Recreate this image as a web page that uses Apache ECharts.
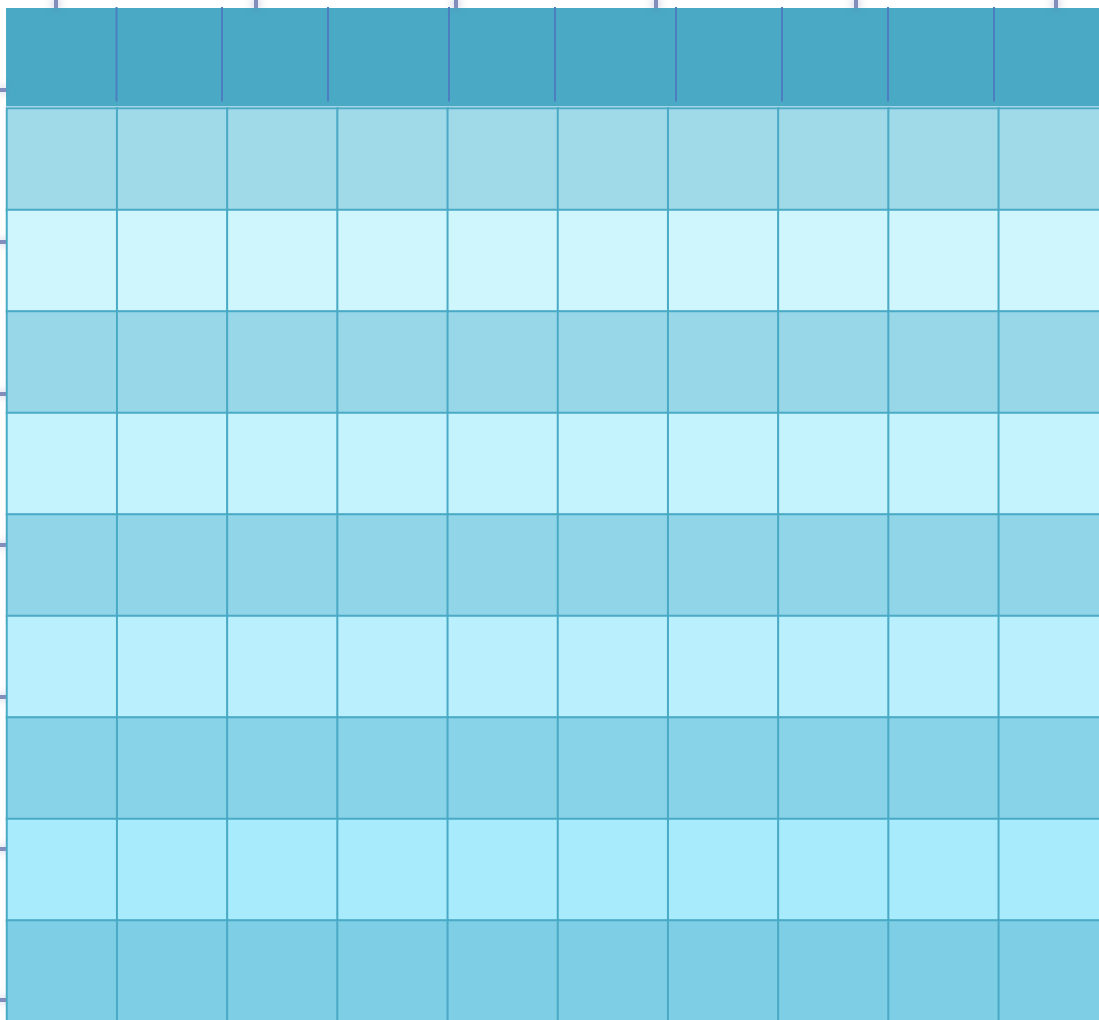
<!DOCTYPE html>
<html>
<head>
<meta charset="utf-8">
<script src="https://cdn.jsdelivr.net/npm/echarts@6/dist/echarts.min.js"></script>
<style>
  html, body { margin: 0; padding: 0; background: #fff; overflow: hidden; }
  /* shifted left so the ticks hugging the page edge stay on canvas */
  #chart { position: absolute; left: -60px; top: 0; width: 1175px; height: 1030px; }
</style>
</head>
<body>
<div id="chart"></div>
<script>
// columns and rows of the body grid
const columns = ['C1', 'C2', 'C3', 'C4', 'C5', 'C6', 'C7', 'C8', 'C9', 'C10']
const rows = ['R1', 'R2', 'R3', 'R4', 'R5', 'R6', 'R7', 'R8', 'R9']
// shade level of each row (alternating bands)
const rowLevels = [1, 8, 2, 7, 3, 6, 4, 5, 0]
// header column spans, left to right
const headerSpans = [110.5, 105.5, 106, 121, 106, 121, 106, 106, 106, 115]

const shadeColors = ['#7ecfe6', '#a0d9e8', '#98d7e8', '#91d5e8', '#89d3e8',
  '#a8ebfd', '#baf0fd', '#c5f3fd', '#d0f6fd']

const SHIFT = 60

const cells = []
rows.forEach((r, ri) => {
  columns.forEach((c, ci) => {
    cells.push([ci, ri, rowLevels[ri]])
  })
})

// divider positions in header
const headerDividers = []
let acc = 0
headerSpans.slice(0, -1).forEach(w => {
  acc += w
  headerDividers.push([acc])
})
const headerTotal = headerSpans.reduce((a, b) => a + b, 0)

// faint blurred ticks peeking out behind the table
const blurTick = (len) => ({
  show: true,
  inside: false,
  length: len,
  lineStyle: { color: 'rgba(95,110,170,0.75)', width: 4, shadowBlur: 8, shadowColor: 'rgba(95,110,170,1)' }
})
const hiddenParts = {
  axisLine: { show: false, onZero: false }, axisLabel: { show: false }, splitLine: { show: false }
}

const chart = echarts.init(document.getElementById('chart'))
chart.setOption({
  animation: false,
  backgroundColor: '#ffffff',
  grid: [
    { left: SHIFT + 7, top: 108.5, width: 1102, height: 913.5 },
    {
      left: SHIFT + 6, top: 8, width: headerTotal, height: 98.5,
      show: true, backgroundColor: '#4aaac6', borderWidth: 0
    },
    { left: SHIFT + 56, top: 8, width: 1000, height: 50 },
    { left: SHIFT + 6, top: 90, width: 50, height: 910 }
  ],
  xAxis: [
    { type: 'category', data: columns, gridIndex: 0, show: false },
    { type: 'value', gridIndex: 1, min: 0, max: headerTotal, show: false },
    {
      type: 'value', gridIndex: 2, min: 0, max: 1000, interval: 200,
      position: 'top', ...hiddenParts, axisTick: blurTick(8)
    },
    { type: 'value', gridIndex: 3, show: false }
  ],
  yAxis: [
    { type: 'category', data: rows, gridIndex: 0, inverse: true, show: false },
    { type: 'value', gridIndex: 1, min: 0, max: 1, show: false },
    { type: 'value', gridIndex: 2, show: false },
    {
      type: 'value', gridIndex: 3, min: 0, max: 6, interval: 1,
      position: 'left', ...hiddenParts, axisTick: blurTick(6)
    }
  ],
  visualMap: {
    show: false,
    type: 'piecewise',
    seriesIndex: 0,
    dimension: 2,
    pieces: shadeColors.map((col, i) => ({ value: i, color: col }))
  },
  series: [
    {
      type: 'heatmap',
      data: cells,
      xAxisIndex: 0,
      yAxisIndex: 0,
      z: 3,
      itemStyle: { borderColor: '#4aaac6', borderWidth: 2 },
      emphasis: { disabled: true }
    },
    {
      type: 'custom',
      xAxisIndex: 1,
      yAxisIndex: 1,
      z: 3,
      data: headerDividers,
      renderItem: (params, api) => {
        const x = api.coord([api.value(0), 0])[0]
        const cs = params.coordSys
        return {
          type: 'line',
          shape: { x1: x, y1: cs.y - 1, x2: x, y2: cs.y + cs.height - 5 },
          style: { stroke: '#4b7fbf', lineWidth: 2 }
        }
      }
    }
  ]
})
</script>
</body>
</html>
